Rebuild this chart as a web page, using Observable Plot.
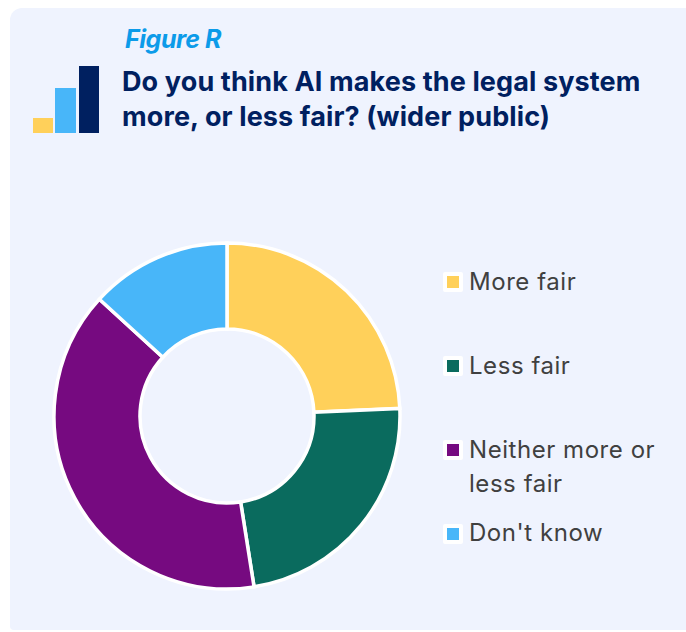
<!DOCTYPE html>
<html>
<head>
<meta charset="utf-8">
<script src="https://cdn.jsdelivr.net/npm/d3@7"></script>
<script src="https://cdn.jsdelivr.net/npm/@observablehq/plot@0.6"></script>
<style>
  html, body { margin: 0; padding: 0; background: #fff; width: 686px; height: 632px; overflow: hidden; }
  #panel { position: absolute; left: 10px; top: 8px; width: 676px; height: 622px; background: #eff3fe; border-radius: 12px 0 0 4px; }
  .abs { position: absolute; white-space: nowrap; }
  #kicker { left: 125px; top: 24px; font: italic 700 25px/30px Inter, sans-serif; color: #0c9be9; letter-spacing: -0.45px; }
  #title { left: 122px; top: 64px; font: 700 27px/35px Inter, sans-serif; color: #002060; letter-spacing: 0.12px; }
  .bar { position: absolute; }
  #chart { position: absolute; left: 47px; top: 236px; }
  .swatch { position: absolute; box-sizing: border-box; width: 20px; height: 20px; border: 4px solid #fff; border-radius: 2px; }
  .label { position: absolute; left: 469px; font: 400 24px/36px Inter, sans-serif; color: #404040; letter-spacing: 0.55px; white-space: nowrap; }
</style>
</head>
<body>
<div id="panel"></div>
<div class="abs" id="kicker">Figure R</div>
<div class="abs" id="title">Do you think AI makes the legal system<br>more, or less fair? (wider public)</div>
<div id="icon"></div>
<div id="chart"></div>
<div id="legend"></div>
<script>
// Survey responses, as shares of the wider public
const categories = ["More fair", "Less fair", "Neither more or less fair", "Don't know"];
const shares = [24.3, 23.2, 39.3, 13.2];
const colors = ["#ffd05a", "#0a6b5e", "#760a80", "#48b6f9"];
const slices = categories.map((category, i) => ({category, share: shares[i]}));

const outerRadius = 173;
const innerRadius = 87;

// Draws each stacked bar as a ring sector: the x scale's range is in radians
function ringSectors(index, scales, values, dimensions) {
  const arc = d3.arc().innerRadius(innerRadius).outerRadius(outerRadius);
  const g = d3.create("svg:g")
    .attr("transform", `translate(${dimensions.width / 2},${dimensions.height / 2})`);
  for (const i of index) {
    g.append("path")
      .attr("d", arc({startAngle: values.x1[i], endAngle: values.x2[i]}))
      .attr("fill", values.fill[i])
      .attr("stroke", "#fff")
      .attr("stroke-width", 3.5);
  }
  return g.node();
}

const donut = Plot.plot({
  width: 360,
  height: 360,
  margin: 0,
  style: {background: "transparent", overflow: "visible"},
  x: {domain: [0, d3.sum(shares)], range: [0, 2 * Math.PI], axis: null},
  color: {domain: categories, range: colors},
  marks: [
    Plot.barX(slices, Plot.stackX({
      x: "share",
      fill: "category",
      order: null,
      render: ringSectors
    }))
  ]
});
document.getElementById("chart").append(donut);

// Legend rows: swatch centre and wrapped label lines
const legendRows = [
  {swatchY: 272, lines: [["More fair", 264]]},
  {swatchY: 356, lines: [["Less fair", 348]]},
  {swatchY: 440, lines: [["Neither more or", 432], ["less fair", 466]]},
  {swatchY: 524, lines: [["Don't know", 515]]}
];
const legend = document.getElementById("legend");
legendRows.forEach((row, i) => {
  const s = document.createElement("div");
  s.className = "swatch";
  s.style.left = "443px";
  s.style.top = row.swatchY + "px";
  s.style.background = colors[i];
  legend.append(s);
  for (const [text, top] of row.lines) {
    const t = document.createElement("div");
    t.className = "label";
    t.style.top = top + "px";
    t.textContent = text;
    legend.append(t);
  }
});

// Small three-bar emblem beside the heading
const emblem = [
  {left: 33, top: 118, w: 20, h: 15, c: "#ffd05a"},
  {left: 55, top: 88, w: 21, h: 45, c: "#48b6f9"},
  {left: 79, top: 66, w: 20, h: 67, c: "#002060"}
];
const icon = document.getElementById("icon");
for (const b of emblem) {
  const d = document.createElement("div");
  d.className = "bar";
  d.style.cssText = `left:${b.left}px;top:${b.top}px;width:${b.w}px;height:${b.h}px;background:${b.c}`;
  icon.append(d);
}
</script>
</body>
</html>
